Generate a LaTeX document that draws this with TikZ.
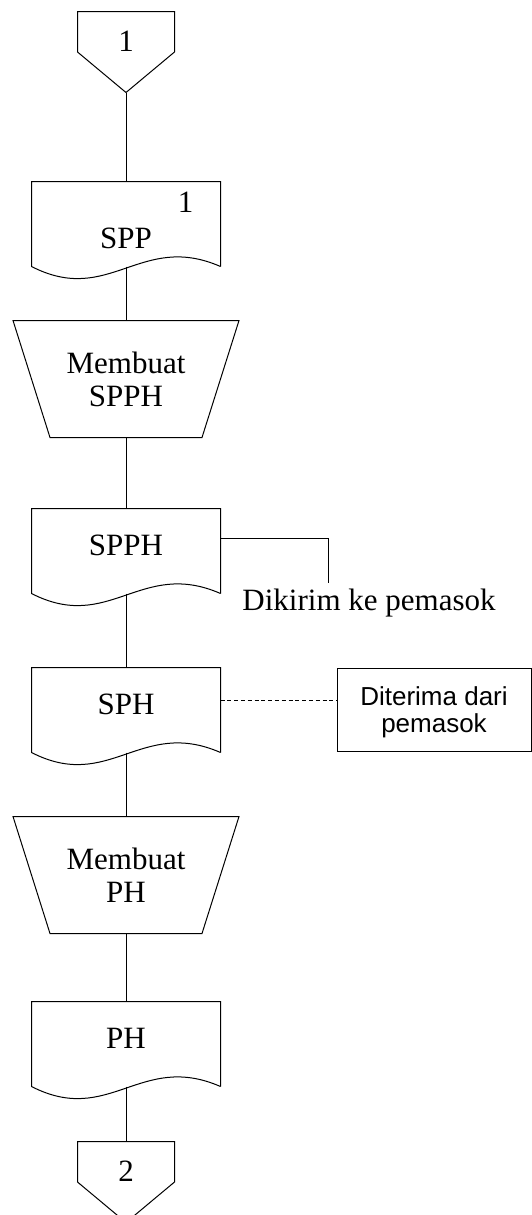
\documentclass[tikz,border=0pt]{standalone}
\usepackage{fontspec}
\setmainfont{Liberation Serif}
\newfontfamily\catatanfont{Liberation Sans}
\usepackage{tikz}
\usetikzlibrary{positioning}

\begin{document}
\begin{tikzpicture}[
  line width=0.5pt,
  every node/.style={font=\fontsize{15.5}{16.5}\selectfont},
  dok/.style={minimum width=94pt, minimum height=42pt, inner sep=0pt,
              text depth=6pt},
  proses/.style={minimum width=112.5pt, minimum height=58pt, inner sep=0pt,
                 align=center},
  konektor/.style={minimum width=48pt, minimum height=40pt, inner sep=0pt,
                   text depth=11pt},
  catatan/.style={draw, minimum width=97pt, minimum height=41.5pt,
                  inner sep=0pt, align=center, text depth=0pt,
                  font=\catatanfont\fontsize{13}{13.5}\selectfont}
]
  \useasboundingbox (0,0) rectangle (265.5pt,-607.5pt);

  \node[konektor] (k1) at (63pt,-26pt) {1};
  \node[dok, below=44.5pt of k1, text height=24pt, text depth=0pt,
        label={[anchor=center, xshift=-17.5pt, yshift=-10.5pt]north east:1}]
        (spp) {SPP};
  \node[proses, below=27pt of spp] (buat1) {Membuat\\SPPH};
  \node[dok, below=35.5pt of buat1] (spph) {SPPH};
  \node[dok, below=37pt of spph] (sph) {SPH};
  \node[proses, below=32pt of sph] (buat2) {Membuat\\PH};
  \node[dok, below=34pt of buat2] (ph) {PH};
  \node[konektor, below=27.5pt of ph] (k2) {2};

  \node[catatan, right=58pt of sph] (terima) {Diterima dari\\pemasok};
  \node (kirim) at ([xshift=74.25pt, yshift=-26pt]spph.east) {Dikirim ke pemasok};
  \coordinate (ujung) at ([xshift=54pt, yshift=-16pt]spph.east);

  % outlines
  \foreach \n in {spp,spph,sph,ph}
    \draw (\n.south east) -- (\n.north east) -- (\n.north west)
      -- (\n.south west)
      .. controls ([shift={(39pt,-20pt)}]\n.south west)
      and ([shift={(-40pt,17.5pt)}]\n.south east) .. (\n.south east);
  \foreach \n in {buat1,buat2}
    \draw (\n.north west) -- (\n.north east) -- ([xshift=-18.5pt]\n.south east)
      -- ([xshift=18.5pt]\n.south west) -- cycle;
  \foreach \n in {k1,k2}
    \draw (\n.north west) -- (\n.north east) -- (\n.east) -- (\n.south)
      -- (\n.west) -- cycle;

  \draw (k1) -- (spp);
  \draw (spp) -- (buat1);
  \draw (buat1) -- (spph);
  \draw (spph) -- (sph);
  \draw (sph) -- (buat2);
  \draw (buat2) -- (ph);
  \draw (ph) -- (k2);
  \draw ([yshift=6.5pt]spph.east) -| (ujung);
  \draw[dash pattern=on 2pt off 1.4pt] ([yshift=5pt]sph.east)
    -- ([yshift=5pt]sph.east -| terima.west);
\end{tikzpicture}
\end{document}
